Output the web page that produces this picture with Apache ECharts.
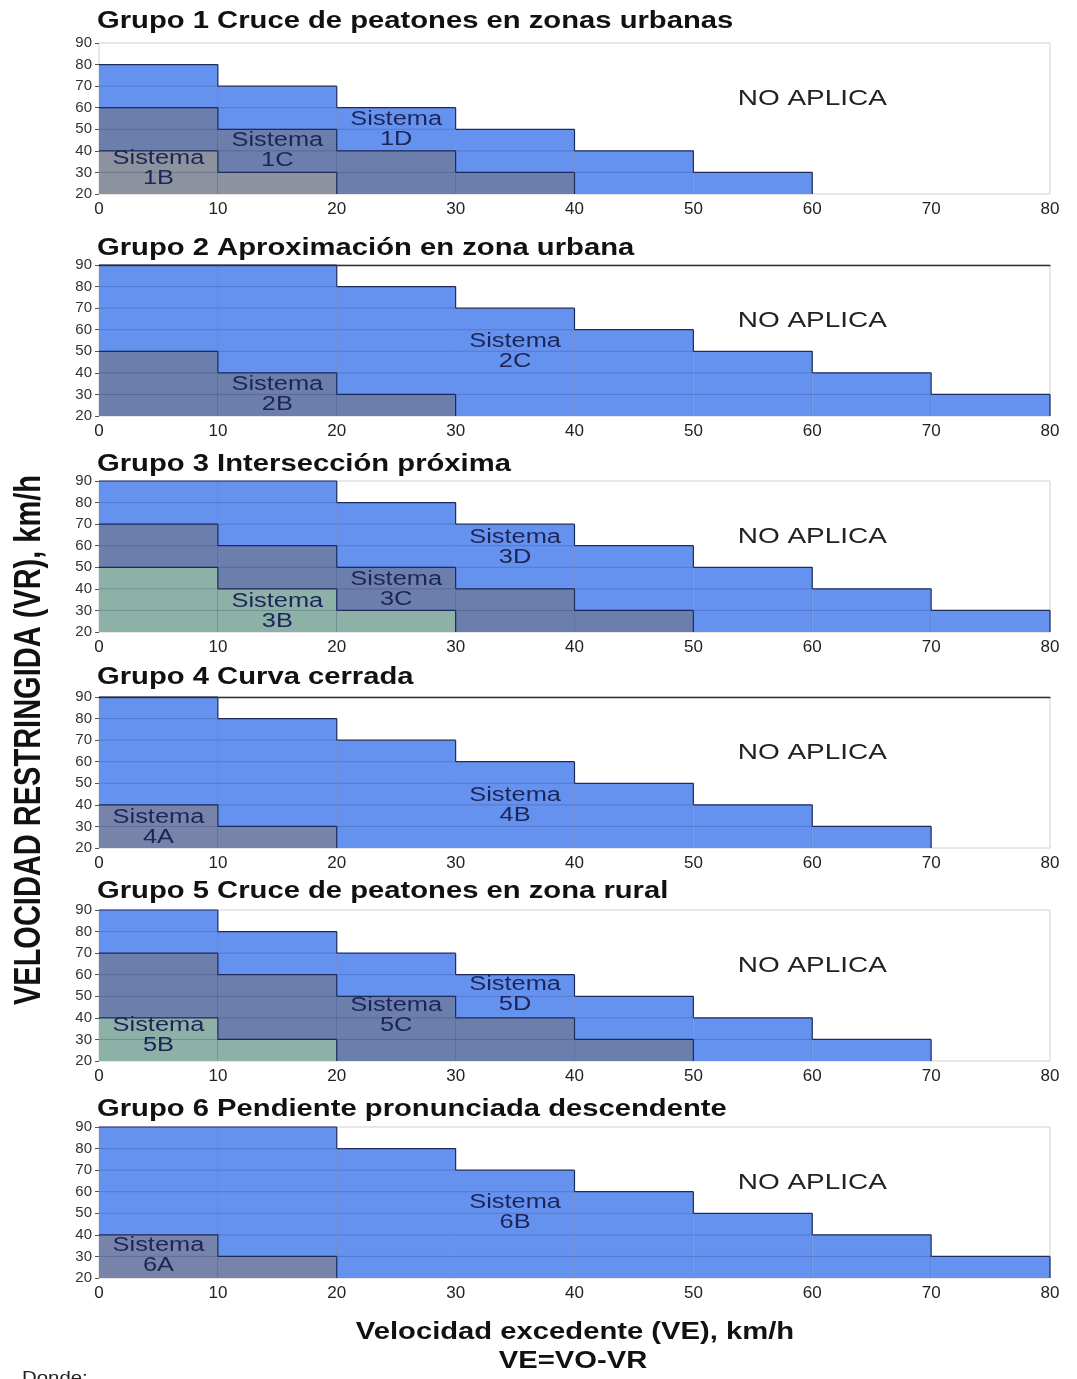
<!DOCTYPE html>
<html><head><meta charset="utf-8">
<script src="https://cdn.jsdelivr.net/npm/echarts@6/dist/echarts.min.js"></script>
<style>html,body{margin:0;padding:0;background:#fff}#c{width:1077px;height:1379px}</style>
</head><body><div id="c"></div>
<script>
// ---- data ----
const xTicks = [0,10,20,30,40,50,60,70,80];
const yTicks = [20,30,40,50,60,70,80,90];
const titulos = [
  'Grupo 1 Cruce de peatones en zonas urbanas',
  'Grupo 2 Aproximación en zona urbana',
  'Grupo 3 Intersección próxima',
  'Grupo 4 Curva cerrada',
  'Grupo 5 Cruce de peatones en zona rural',
  'Grupo 6 Pendiente pronunciada descendente'
];
// heights (VR upper limit) per 10 km/h bin of VE, starting at VE=0
const g1_1D = [80,70,60,50,40,30];
const g1_1C = [60,50,40,30];
const g1_1B = [40,30];
const g2_2C = [90,90,80,70,60,50,40,30];
const g2_2B = [50,40,30];
const g3_3D = [90,90,80,70,60,50,40,30];
const g3_3C = [70,60,50,40,30];
const g3_3B = [50,40,30];
const g4_4B = [90,80,70,60,50,40,30];
const g4_4A = [40,30];
const g5_5D = [90,80,70,60,50,40,30];
const g5_5C = [70,60,50,40,30];
const g5_5B = [40,30];
const g6_6B = [90,90,80,70,60,50,40,30];
const g6_6A = [40,30];
const noAplica = 'NO APLICA';

// ---- styles / layout ----
const AZUL = '#6592ef', OSCURO = '#6b7eac', GRISAZ = '#7783a9', GRIS = '#8d929f', VERDE = '#8db0a7';
const LINEA = '#1c2a5c';
const FONT = '"Liberation Sans", Arial, sans-serif';
const SX = 1.27;

const grupos = [
  {sis: [{n:'1D', h:g1_1D, c:AZUL, p:[25,50]}, {n:'1C', h:g1_1C, c:OSCURO, p:[15,40]}, {n:'1B', h:g1_1B, c:GRIS, p:[5,32]}]},
  {sis: [{n:'2C', h:g2_2C, c:AZUL, p:[35,50]}, {n:'2B', h:g2_2B, c:OSCURO, p:[15,30]}]},
  {sis: [{n:'3D', h:g3_3D, c:AZUL, p:[35,59]}, {n:'3C', h:g3_3C, c:OSCURO, p:[25,39.5]}, {n:'3B', h:g3_3B, c:VERDE, p:[15,29.5]}]},
  {sis: [{n:'4B', h:g4_4B, c:AZUL, p:[35,39.5]}, {n:'4A', h:g4_4A, c:GRISAZ, p:[5,29.5]}]},
  {sis: [{n:'5D', h:g5_5D, c:AZUL, p:[35,51]}, {n:'5C', h:g5_5C, c:OSCURO, p:[25,41]}, {n:'5B', h:g5_5B, c:VERDE, p:[5,32]}]},
  {sis: [{n:'6B', h:g6_6B, c:AZUL, p:[35,50.5]}, {n:'6A', h:g6_6A, c:GRISAZ, p:[5,30.5]}]}
];
const gridTops = [43,265,481,697,910,1127];
const titleY = [22,249,465,678,892,1110];
const GRID_H = 151;
const topOscuro = [false,true,false,true,false,false];

const grids = [], xAxes = [], yAxes = [], series = [], graphics = [];

grupos.forEach((g, i) => {
  grids.push({left:99, width:951, top:gridTops[i], height:GRID_H, show:true, borderColor:'#d0d0d0', borderWidth:1, backgroundColor:'transparent'});
  xAxes.push({type:'value', gridIndex:i, min:xTicks[0], max:xTicks[xTicks.length-1], interval:10,
    axisLine:{show:false}, axisTick:{show:false}, splitLine:{show:false},
    axisLabel:{fontSize:17, color:'#222', margin:7, fontFamily:FONT}});
  yAxes.push({type:'value', gridIndex:i, min:yTicks[0], max:yTicks[yTicks.length-1], interval:10,
    axisLine:{show:false}, axisTick:{show:true, length:4, lineStyle:{color:'#555'}}, splitLine:{show:false},
    axisLabel:{fontSize:15, color:'#333', margin:7, fontFamily:FONT}});

  g.sis.forEach(s => {
    const datos = s.h.map((h,k) => [xTicks[k], xTicks[k+1], h, k+1 < s.h.length ? s.h[k+1] : yTicks[0]]);
    series.push({
      type:'custom', xAxisIndex:i, yAxisIndex:i, data:datos, encode:{x:[0,1], y:2}, silent:true, z:2,
      renderItem: (p, api) => {
        const x0 = api.value(0), x1 = api.value(1), h = api.value(2), nh = api.value(3);
        const a = api.coord([x0, h]), b = api.coord([x1, 20]), c = api.coord([x1, nh]);
        const ch = [{type:'rect', shape:{x:a[0], y:a[1], width:b[0]-a[0], height:b[1]-a[1]}, style:{fill:s.c}}];
        for (let v = 30; v < h; v += 10) {
          const l = api.coord([x0, v]), r = api.coord([x1, v]);
          ch.push({type:'line', shape:{x1:l[0], y1:l[1], x2:r[0], y2:r[1]}, style:{stroke:'rgba(25,35,90,0.22)', lineWidth:1}});
        }
        ch.push({type:'line', shape:{x1:a[0], y1:a[1], x2:b[0], y2:a[1]}, style:{stroke:LINEA, lineWidth:1.2}});
        ch.push({type:'line', shape:{x1:b[0], y1:a[1], x2:b[0], y2:c[1]}, style:{stroke:LINEA, lineWidth:1.2}});
        ch.push({type:'line', shape:{x1:b[0], y1:c[1], x2:b[0], y2:b[1]}, style:{stroke:'rgba(25,35,90,0.3)', lineWidth:1}});
        return {type:'group', children:ch};
      }
    });
  });
  g.sis.forEach(s => {
    series.push({
      type:'custom', xAxisIndex:i, yAxisIndex:i, data:[s.p], silent:true, z:5,
      renderItem: (p, api) => {
        const pt = api.coord([api.value(0), api.value(1)]);
        return {type:'text', x:pt[0], y:pt[1], scaleX:SX,
          style:{text:'Sistema\n' + s.n, fill:'#1d2558', font:'20px ' + FONT, align:'center', verticalAlign:'middle', lineHeight:20}};
      }
    });
  });
  series.push({
    type:'custom', xAxisIndex:i, yAxisIndex:i, data:[[60, 64]], silent:true, z:5,
    renderItem: (p, api) => {
      const pt = api.coord([api.value(0), api.value(1)]);
      return {type:'text', x:pt[0], y:pt[1], scaleX:SX,
        style:{text:noAplica, fill:'#222', font:'22px ' + FONT, align:'center', verticalAlign:'middle'}};
    }
  });
  graphics.push({type:'text', x:97, y:titleY[i], scaleX:SX,
    style:{text:titulos[i], fill:'#111', font:'bold 23px ' + FONT, align:'left', verticalAlign:'middle'}});
});

// dark top frame lines for panels 2 and 4 (extra top axes)
topOscuro.forEach((d, i) => {
  if (!d) return;
  xAxes.push({type:'value', gridIndex:i, position:'top', min:xTicks[0], max:xTicks[xTicks.length-1],
    axisLine:{show:true, lineStyle:{color:'#333', width:1.3}}, axisTick:{show:false}, axisLabel:{show:false}, splitLine:{show:false}, z:6});
});

graphics.push({type:'text', x:30, y:740, rotation:Math.PI/2, scaleY:SX,
  style:{text:'VELOCIDAD RESTRINGIDA (VR), km/h', fill:'#111', font:'bold 29px ' + FONT, align:'center', verticalAlign:'middle'}});
graphics.push({type:'text', x:575, y:1333, scaleX:SX,
  style:{text:'Velocidad excedente (VE), km/h', fill:'#111', font:'bold 23px ' + FONT, align:'center', verticalAlign:'middle'}});
graphics.push({type:'text', x:573, y:1362, scaleX:SX,
  style:{text:'VE=VO-VR', fill:'#111', font:'bold 23px ' + FONT, align:'center', verticalAlign:'middle'}});
graphics.push({type:'text', x:22, y:1378, scaleX:1.2,
  style:{text:'Donde:', fill:'#222', font:'17px ' + FONT, align:'left', verticalAlign:'middle'}});

const chart = echarts.init(document.getElementById('c'), null, {renderer:'canvas'});
chart.setOption({
  animation:false,
  backgroundColor:'#fff',
  grid:grids, xAxis:xAxes, yAxis:yAxes, series:series, graphic:graphics
});
</script></body></html>
